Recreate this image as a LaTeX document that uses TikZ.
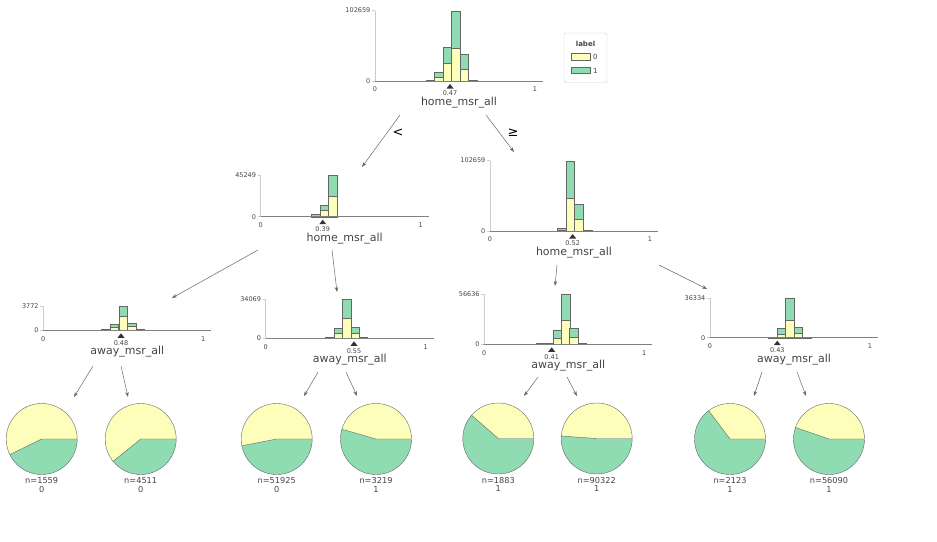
\documentclass[tikz,border=0pt]{standalone}
\usepackage{fontspec}
\setmainfont{DejaVu Sans}
\usetikzlibrary{arrows.meta}
\definecolor{cls0}{HTML}{FEFEBB}
\definecolor{cls1}{HTML}{8FDBB2}
\definecolor{axisgray}{HTML}{CCCCCC}
\definecolor{txtgray}{HTML}{444444}

\begin{document}
\begin{tikzpicture}
  [x=1pt,y=-1pt,
   bar0/.style={fill=cls0,draw=black!60,line width=0.4pt},
   bar1/.style={fill=cls1,draw=black!60,line width=0.4pt},
   spine/.style={draw=axisgray,line width=0.6pt},
   xaxis/.style={draw=black!50,line width=0.6pt},
   tick/.style={font=\fontsize{6.5}{7}\selectfont,text=txtgray,inner sep=0pt},
   feat/.style={font=\fontsize{11}{12}\selectfont,text=txtgray,inner sep=0pt},
   small/.style={font=\fontsize{7}{8}\selectfont,text=txtgray,inner sep=0pt},
   leaf/.style={font=\fontsize{8.2}{9}\selectfont,text=txtgray,inner sep=0pt},
   oplabel/.style={font=\fontsize{13}{14}\selectfont,inner sep=0pt},
   edge/.style={draw=black!60,line width=0.5pt,-{Stealth[length=5pt,width=3.5pt]}},
   pieedge/.style={draw=black!60,line width=0.4pt}]
  \useasboundingbox (0,0) rectangle (937,541);

  % bars: start / class-0 top / total top
  \foreach \a/\y/\t in {425.9/80.4/80, 434.4/76.7/72.3, 442.9/63.3/46.7, 451.4/48.3/10.7, 459.9/69.3/54, 468.4/80.4/80}
    {\filldraw[bar1] (\a,81) rectangle (\a+8.5,\t); \filldraw[bar0] (\a,81) rectangle (\a+8.5,\y);}
  \foreach \a/\y/\t in {311.6/215.8/214.3, 320/210.3/205, 328.4/195.7/175.3}
    {\filldraw[bar1] (\a,216.7) rectangle (\a+8.5,\t); \filldraw[bar0] (\a,216.7) rectangle (\a+8.5,\y);}
  \foreach \a/\y/\t in {557.4/230/227.7, 566/198.3/160.7, 574.6/219.3/204, 583.2/230.4/230}
    {\filldraw[bar1] (\a,231) rectangle (\a+8.5,\t); \filldraw[bar0] (\a,231) rectangle (\a+8.5,\y);}
  \foreach \a/\y/\t in {101.5/329.8/329.3, 110.1/327.3/324.3, 118.7/316.3/306.3, 127.3/326.3/323.3, 135.9/329.9/329.6}
    {\filldraw[bar1] (\a,330.3) rectangle (\a+8.5,\t); \filldraw[bar0] (\a,330.3) rectangle (\a+8.5,\y);}
  \foreach \a/\y/\t in {325.5/337.5/336.7, 333.9/333.3/328.3, 342.3/317.7/299.3, 350.7/332.7/327.3, 359.1/337.9/337.5}
    {\filldraw[bar1] (\a,338.3) rectangle (\a+8.5,\t); \filldraw[bar0] (\a,338.3) rectangle (\a+8.5,\y);}
  \foreach \a/\y/\t in {536/343.9/343.5, 544.4/343.6/342.7, 552.8/337.7/330.3, 561.2/319.7/294.3, 569.6/336.7/328.3, 578/343.9/343.6}
    {\filldraw[bar1] (\a,344.3) rectangle (\a+8.5,\t); \filldraw[bar0] (\a,344.3) rectangle (\a+8.5,\y);}
  \foreach \a/\y/\t in {768.5/337.2/336.7, 777/334/328.3, 785.5/320/298.3, 794/333.3/326.7, 802.5/337.3/337}
    {\filldraw[bar1] (\a,337.7) rectangle (\a+8.5,\t); \filldraw[bar0] (\a,337.7) rectangle (\a+8.5,\y);}

  % axes, ticks and split marks
  \foreach \nm/\ox/\b/\t/\ymax/\sx/\sv/\f in {root/375/81/10.5/102659/450/0.47/home,
      lt/260.7/216.7/175.3/45249/322.7/0.39/home, rt/490/231/160.5/102659/572.7/0.52/home,
      ll/43.3/330.3/306/3772/121/0.48/away, lr/265.7/338.3/299.3/34069/354/0.55/away,
      rl/484.3/344.3/294.3/56636/551.7/0.41/away, rr/710/337.7/298.3/36334/777.3/0.43/away}
  {
    \draw[spine] (\ox,\b) -- (\ox,\t) (\ox-3,\t) -- (\ox,\t) (\ox-3,\b) -- (\ox,\b);
    \draw[xaxis] (\ox,\b) -- (\ox+168,\b);
    \node[tick,anchor=east] (\nm-ymax) at (\ox-4.5,\t) {\ymax};
    \node[tick,anchor=east] (\nm-ymin) at (\ox-4.5,\b) {0};
    \node[tick] (\nm-x0) at (\ox,\b+8.5) {0};
    \node[tick] (\nm-x1) at (\ox+160,\b+8.5) {1};
    \fill[black!80] (\sx,\b+3) -- (\sx+3.5,\b+7.5) -- (\sx-3.5,\b+7.5) -- cycle;
    \node[tick] (\nm-split) at (\sx,\b+12.5) {\sv};
    \node[feat] (\nm-lbl) at (\ox+84,\b+21.5) {\f\_msr\_all};
  }

  % legend
  \draw[axisgray,rounded corners=1.5pt] (564,33) rectangle (607,82.5);
  \node[small,font=\fontsize{7}{8}\selectfont\bfseries] (leg-title) at (585.5,43.5) {label};
  \filldraw[bar0] (571,53.5) rectangle (590,60);
  \filldraw[bar1] (571,67) rectangle (590,73.5);
  \node[small,anchor=west] (leg-0) at (593,57) {0};
  \node[small,anchor=west] (leg-1) at (593,70.5) {1};

  % leaves
  \foreach \nm/\px/\py/\ang/\n/\c in {ll0/41.7/439/206/1559/0, ll1/140.7/439/219/4511/0,
      lr0/276.7/439/191/51925/0, lr1/376/439/164/3219/1, rl0/498.3/438.5/139/1883/1,
      rl1/596.7/438.5/176/90322/1, rr0/730/439/127/2123/1, rr1/829/439/161/56090/1}
  {
    \coordinate (\nm) at (\px,\py);
    \fill[cls0] (\nm) -- +(0:35.5pt) arc[start angle=0,end angle=\ang,radius=35.5pt] -- cycle;
    \fill[cls1] (\nm) -- +(\ang:35.5pt) arc[start angle=\ang,end angle=360,radius=35.5pt] -- cycle;
    \draw[pieedge] (\nm) -- +(0:35.5pt) (\nm) -- +(\ang:35.5pt) (\nm) circle[radius=35.5pt];
    \node[leaf] (\nm-n) at (\px,\py+42) {n=\n};
    \node[leaf] (\nm-c) at (\px,\py+50.5) {\c};
  }

  % edge ends
  \coordinate (root-l) at (400,115);  \coordinate (lt-in) at (362,167);
  \coordinate (root-r) at (486,115);  \coordinate (rt-in) at (514,152);
  \coordinate (lt-l) at (258,250);    \coordinate (ll-in) at (172,298);
  \coordinate (lt-r) at (332,250);    \coordinate (lr-in) at (337,292);
  \coordinate (rt-l) at (557,265);    \coordinate (rl-in) at (555,286);
  \coordinate (rt-r) at (659,265);    \coordinate (rr-in) at (707,289);
  \coordinate (ll-l) at (93,366);     \coordinate (ll0-in) at (74,397);
  \coordinate (ll-r) at (121,366);    \coordinate (ll1-in) at (128,397);
  \coordinate (lr-l) at (318,372);    \coordinate (lr0-in) at (304,396);
  \coordinate (lr-r) at (346,372);    \coordinate (lr1-in) at (357,396);
  \coordinate (rl-l) at (538,377);    \coordinate (rl0-in) at (524,396);
  \coordinate (rl-r) at (567,377);    \coordinate (rl1-in) at (577,396);
  \coordinate (rr-l) at (762,372);    \coordinate (rr0-in) at (754,396);
  \coordinate (rr-r) at (797,372);    \coordinate (rr1-in) at (806,396);

  \foreach \from/\to in {root-l/lt-in, root-r/rt-in, lt-l/ll-in, lt-r/lr-in, rt-l/rl-in, rt-r/rr-in,
      ll-l/ll0-in, ll-r/ll1-in, lr-l/lr0-in, lr-r/lr1-in, rl-l/rl0-in, rl-r/rl1-in, rr-l/rr0-in, rr-r/rr1-in}
  \draw[edge] (\from) -- (\to);

  \node[oplabel] (op-lt) at (398,133) {<};
  \node[oplabel] (op-ge) at (513,133) {≥};
\end{tikzpicture}
\end{document}
